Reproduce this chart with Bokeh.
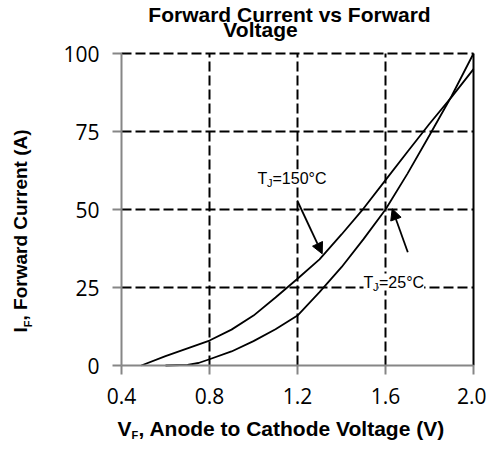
import math
from bokeh.plotting import figure
from bokeh.models import (Range1d, FixedTicker, NumeralTickFormatter, Label,
                          Arrow, NormalHead)
from bokeh.embed import file_html
from bokeh.resources import INLINE

# ---- data ----
v_150 = [0.49, 0.6, 0.7, 0.8, 0.9, 1.0, 1.1, 1.2, 1.3, 1.4, 1.5, 1.6, 1.7, 1.8, 1.9, 2.0]
i_150 = [0.0, 3.0, 5.5, 8.0, 11.5, 16.0, 21.8, 27.8, 34.0, 42.0, 50.3, 59.4, 68.5, 77.5, 86.0, 95.0]

v_25 = [0.6, 0.7, 0.75, 0.8, 0.9, 1.0, 1.1, 1.2, 1.3, 1.4, 1.5, 1.6, 1.7, 1.8, 1.9, 2.0]
i_25 = [0.0, 0.2, 0.8, 2.0, 4.5, 7.8, 11.6, 16.0, 23.5, 31.5, 40.5, 50.0, 61.5, 73.8, 86.3, 100.0]

x_ticks = [0.4, 0.8, 1.2, 1.6, 2.0]
y_ticks = [0, 25, 50, 75, 100]
x_grid = [0.8, 1.2, 1.6]
y_grid = [25, 50, 75, 100]

title_line1 = "Forward Current vs Forward"
title_line2 = "Voltage"

# ---- layout: the frame fills the whole canvas, axes sit at fixed data locations ----
W, H = 486, 441
PX_L, PX_R = 121, 473      # pixel position of x = 0.4 and x = 2.0
PY_B, PY_T = 365, 53       # pixel position of y = 0 and y = 100
xmin, xmax = x_ticks[0], x_ticks[-1]
ymin, ymax = y_ticks[0], y_ticks[-1]
sx = (PX_R - PX_L) / (xmax - xmin)
sy = (PY_B - PY_T) / (ymax - ymin)
x_start, x_end = xmin - PX_L / sx, xmax + (W - PX_R) / sx
y_start, y_end = ymin - (H - PY_B) / sy, ymax + PY_T / sy


def X(px):
    return x_start + px / sx


def Y(py):
    return y_end - py / sy


p = figure(width=W, height=H, output_backend="svg", toolbar_location=None, title=None,
           x_range=Range1d(x_start, x_end), y_range=Range1d(y_start, y_end),
           min_border=0)
p.outline_line_color = None
p.xgrid.visible = False
p.ygrid.visible = False
p.background_fill_color = "white"
p.border_fill_color = "white"

axis_gray = "#868686"
p.xaxis.fixed_location = ymin
p.yaxis.fixed_location = xmin
p.xaxis.bounds = (xmin, xmax)
p.yaxis.bounds = (ymin, ymax)
for ax in (p.xaxis[0], p.yaxis[0]):
    ax.axis_line_color = axis_gray
    ax.axis_line_width = 2
    ax.major_tick_line_color = axis_gray
    ax.major_tick_line_width = 2
    ax.major_tick_out = 9
    ax.major_tick_in = 0
    ax.minor_tick_line_color = None
    ax.major_label_text_font = "Open Sans"
    ax.major_label_text_font_size = "21px"
    ax.major_label_text_color = "black"
    ax.major_label_standoff = 13

p.xaxis.ticker = FixedTicker(ticks=x_ticks)
p.yaxis.ticker = FixedTicker(ticks=y_ticks)
p.xaxis.formatter = NumeralTickFormatter(format="0.0")
p.yaxis.formatter = NumeralTickFormatter(format="0")

# dashed grid
p.segment(x0=[xmin] * len(y_grid), x1=[xmax] * len(y_grid), y0=y_grid, y1=y_grid,
          line_color="black", line_width=2, line_dash="10 4")
p.segment(x0=x_grid, x1=x_grid, y0=[ymin] * len(x_grid), y1=[ymax] * len(x_grid),
          line_color="black", line_width=2, line_dash="10 4")
# solid right border
p.segment(x0=[xmax], x1=[xmax], y0=[ymin], y1=[ymax], line_color="black", line_width=2)

p.line(v_150, i_150, line_color="black", line_width=1.8)
p.line(v_25, i_25, line_color="black", line_width=1.8)

# arrows
p.add_layout(Arrow(end=NormalHead(size=11, fill_color="black", line_color="black"),
                   x_start=X(296.7), y_start=Y(200), x_end=X(321.7), y_end=Y(253.3),
                   line_color="black", line_width=1.8))
p.add_layout(Arrow(end=NormalHead(size=11, fill_color="black", line_color="black"),
                   x_start=X(407.3), y_start=Y(251.7), x_end=X(391.7), y_end=Y(208.3),
                   line_color="black", line_width=1.8))

lab_font = "Liberation Sans"


def lab(px, py, text, size, bold=False, **kw):
    # py is the bottom of the text box (in pixels from the top)
    p.add_layout(Label(x=X(px), y=Y(py), text=text, text_font=lab_font,
                       text_font_size=size, text_font_style="bold" if bold else "normal",
                       text_color="black", text_baseline="bottom", **kw))


# T_J = 150 C label
lab(257, 186, "T", "16px", background_fill_color="white")
lab(272, 186, "=150°C", "16px", background_fill_color="white")
lab(266.5, 188, "J", "11px", background_fill_color="white")
# T_J = 25 C label
lab(363, 290, "T", "16px", background_fill_color="white")
lab(378.5, 290, "=25°C", "16px", background_fill_color="white")
lab(372.5, 292, "J", "11px", background_fill_color="white")

# titles
lab(289, 25, title_line1, "21px", bold=True, text_align="center")
lab(260, 40, title_line2, "21px", bold=True, text_align="center")

# x axis label  V_F, Anode to Cathode Voltage (V)
lab(117, 439, "V", "21px", bold=True)
lab(131, 440, "F", "11px", bold=True)
lab(138, 439, ", Anode to Cathode Voltage (V)", "21px", bold=True)

# y axis label  I_F, Forward Current (A)
lab(30, 332, "I", "19px", bold=True, angle=math.pi / 2)
lab(33, 326.7, "F", "11px", bold=True, angle=math.pi / 2)
lab(30, 320, ", Forward Current (A)", "19px", bold=True, angle=math.pi / 2)

open("out.html", "w").write(file_html(p, INLINE))
